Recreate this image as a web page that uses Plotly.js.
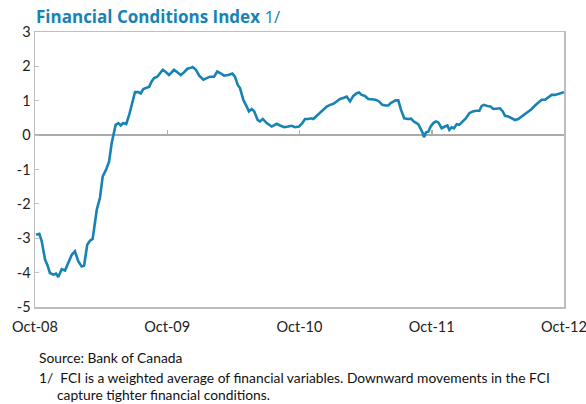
<!DOCTYPE html>
<html>
<head>
<meta charset="utf-8">
<script src="https://cdn.plot.ly/plotly-3.0.1.min.js"></script>
<style>
html,body{margin:0;padding:0;background:#fff;}
#chart{width:586px;height:404px;}
</style>
</head>
<body>
<div id="chart"></div>
<script>
// Time as decimal years (Oct-08 = 2008.75)
var years = [2008.758,2008.783,2008.801,2008.826,2008.843,2008.863,2008.888,2008.909,2008.926,2008.952,2008.977,2009.002,2009.028,2009.052,2009.077,2009.103,2009.121,2009.145,2009.166,2009.186,2009.217,2009.241,2009.262,2009.287,2009.310,2009.330,2009.342,2009.360,2009.380,2009.398,2009.418,2009.440,2009.463,2009.486,2009.506,2009.531,2009.549,2009.569,2009.595,2009.614,2009.632,2009.650,2009.675,2009.695,2009.716,2009.741,2009.763,2009.784,2009.801,2009.826,2009.852,2009.877,2009.902,2009.922,2009.942,2009.967,2009.992,2010.023,2010.048,2010.073,2010.104,2010.128,2010.154,2010.179,2010.212,2010.242,2010.262,2010.283,2010.300,2010.325,2010.351,2010.368,2010.389,2010.408,2010.434,2010.451,2010.472,2010.502,2010.540,2010.578,2010.603,2010.635,2010.665,2010.691,2010.716,2010.746,2010.771,2010.792,2010.817,2010.837,2010.854,2010.880,2010.905,2010.930,2010.956,2010.981,2011.006,2011.031,2011.056,2011.081,2011.107,2011.132,2011.157,2011.183,2011.200,2011.220,2011.245,2011.270,2011.296,2011.326,2011.351,2011.376,2011.402,2011.421,2011.440,2011.459,2011.477,2011.497,2011.517,2011.542,2011.568,2011.593,2011.616,2011.648,2011.666,2011.682,2011.691,2011.707,2011.724,2011.742,2011.762,2011.782,2011.800,2011.825,2011.850,2011.868,2011.883,2011.901,2011.918,2011.939,2011.958,2011.984,2012.009,2012.034,2012.060,2012.085,2012.110,2012.128,2012.145,2012.170,2012.196,2012.215,2012.241,2012.266,2012.287,2012.304,2012.329,2012.355,2012.379,2012.404,2012.430,2012.455,2012.480,2012.506,2012.531,2012.556,2012.581,2012.606,2012.631,2012.657,2012.682,2012.707,2012.733,2012.750];
var fci = [-2.90,-2.87,-3.09,-3.62,-3.77,-4.01,-4.06,-4.03,-4.13,-3.90,-3.94,-3.72,-3.48,-3.38,-3.67,-3.82,-3.80,-3.19,-3.07,-3.02,-2.17,-1.83,-1.20,-1.01,-0.77,-0.23,0.01,0.30,0.35,0.28,0.35,0.32,0.60,0.98,1.25,1.25,1.21,1.34,1.37,1.41,1.56,1.66,1.70,1.80,1.90,1.83,1.75,1.83,1.90,1.83,1.75,1.83,1.93,1.95,1.98,1.90,1.73,1.61,1.66,1.70,1.70,1.85,1.80,1.73,1.75,1.79,1.70,1.46,1.37,1.03,0.83,0.69,0.76,0.69,0.44,0.40,0.47,0.35,0.25,0.33,0.28,0.23,0.25,0.27,0.23,0.25,0.35,0.47,0.47,0.49,0.47,0.56,0.66,0.74,0.83,0.88,0.91,0.98,1.05,1.08,1.12,0.98,1.14,1.22,1.24,1.17,1.14,1.05,1.05,1.03,0.98,0.88,0.86,0.86,0.93,0.98,1.01,1.01,0.74,0.49,0.47,0.48,0.39,0.32,0.20,0.06,-0.06,0.08,0.10,0.25,0.35,0.40,0.37,0.20,0.25,0.28,0.15,0.23,0.20,0.32,0.30,0.40,0.49,0.64,0.69,0.71,0.71,0.85,0.88,0.85,0.83,0.76,0.78,0.78,0.69,0.56,0.54,0.49,0.44,0.47,0.54,0.61,0.67,0.76,0.86,0.95,1.03,1.03,1.10,1.17,1.17,1.20,1.25,1.25];

var tickYears = [2008.75, 2009.75, 2010.75, 2011.75, 2012.75];
var tickLabels = ["Oct-08", "Oct-09", "Oct-10", "Oct-11", "Oct-12"];
var yTicks = [-5, -4, -3, -2, -1, 0, 1, 2, 3];
var yLabels = ["-5", "-4", "-3", "-2", "-1", "0", "1", "2", "3"];

var titleText = "<b>Financial Conditions Index</b> 1/";
var sourceText = "Source: Bank of Canada";
var noteLine1 = "1/  FCI is a weighted average of financial variables. Downward movements in the FCI";
var noteLine2 = "capture tighter financial conditions.";

var blue = "#1783b4";
var font = "Lato, 'Open Sans', sans-serif";

var trace = {
  x: years, y: fci, type: "scatter", mode: "lines",
  line: {color: blue, width: 2.6},
  hoverinfo: "skip", showlegend: false
};
var tickHolder = {x: [], y: [], xaxis: "x2", type: "scatter", mode: "lines", showlegend: false, hoverinfo: "skip"};

var layout = {
  width: 586, height: 404,
  margin: {l: 35, r: 22, t: 32, b: 97},
  paper_bgcolor: "#fff", plot_bgcolor: "#fff",
  font: {family: font, color: "#222", size: 14},
  showlegend: false,
  xaxis: {
    range: [2008.75, 2012.75],
    tickvals: tickYears, ticktext: tickLabels,
    ticks: "", showgrid: false, zeroline: false,
    showline: true, mirror: true, linecolor: "#bdbdbd", linewidth: 1.5,
    tickfont: {family: font, size: 14.5, color: "#222"},
    ticklabeloverflow: "allow",
    ticklabelstandoff: 6
  },
  xaxis2: {
    overlaying: "x", anchor: "free", position: 0.625, side: "bottom",
    range: [2008.75, 2012.75],
    tickvals: tickYears, ticks: "inside", ticklen: 5, tickwidth: 1.5, tickcolor: "#b0b0b0",
    showticklabels: false, showgrid: false, zeroline: false, showline: false
  },
  yaxis: {
    range: [-5, 3],
    tickvals: yTicks, ticktext: yLabels,
    ticks: "inside", ticklen: 4, tickwidth: 1, tickcolor: "#c0c0c0",
    showgrid: false,
    zeroline: true, zerolinecolor: "#aaaaaa", zerolinewidth: 2,
    showline: true, mirror: true, linecolor: "#bdbdbd", linewidth: 1.5,
    tickfont: {family: font, size: 14.5, color: "#222"}
  },
  annotations: [
    {text: titleText, xref: "paper", yref: "paper", x: -0.002, y: 1, yshift: 16,
     xanchor: "left", yanchor: "middle", showarrow: false,
     font: {family: "'Open Sans', sans-serif", size: 17, color: blue}},
    {text: sourceText, xref: "paper", yref: "paper", x: 0.004, y: 0, yshift: -50,
     xanchor: "left", yanchor: "middle", showarrow: false,
     font: {family: font, size: 13.8, color: "#111"}},
    {text: noteLine1, xref: "paper", yref: "paper", x: 0.004, y: 0, yshift: -70,
     xanchor: "left", yanchor: "middle", showarrow: false,
     font: {family: font, size: 13.8, color: "#111"}},
    {text: noteLine2, xref: "paper", yref: "paper", x: 0.038, y: 0, yshift: -87,
     xanchor: "left", yanchor: "middle", showarrow: false,
     font: {family: font, size: 13.8, color: "#111"}}
  ]
};

Plotly.newPlot("chart", [trace, tickHolder], layout, {staticPlot: true, displayModeBar: false});
</script>
</body>
</html>
